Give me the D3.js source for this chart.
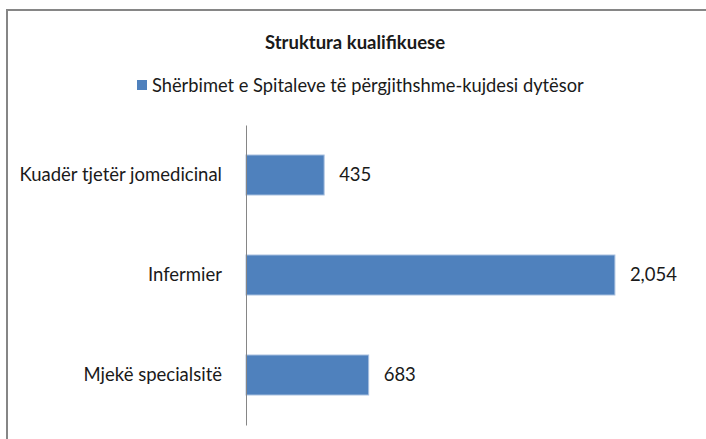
<!DOCTYPE html>
<html>
<head>
<meta charset="utf-8">
<script src="https://cdn.jsdelivr.net/npm/d3@7"></script>
<style>
  body { margin: 0; background: #fff; }
  svg text { font-family: Lato, "Open Sans", sans-serif; fill: #1a1a1a; }
</style>
</head>
<body>
<div id="chart"></div>
<script>
// values
var categories = ["Kuadër tjetër jomedicinal", "Infermier", "Mjekë specialsitë"];
var values = [435, 2054, 683];
var seriesName = "Shërbimet e Spitaleve të përgjithshme-kujdesi dytësor";
var chartTitle = "Struktura kualifikuese";

var W = 706, H = 439;
var margin = {top: 125, right: 11, bottom: 14, left: 246};
var width = W - margin.left - margin.right,
    height = H - margin.top - margin.bottom;

var svg = d3.select("#chart")
  .append("svg")
    .attr("width", W)
    .attr("height", H);

// chart frame (only left and top visible in the picture)
svg.append("rect")
  .attr("x", 7)
  .attr("y", 10)
  .attr("width", 720)
  .attr("height", 460)
  .attr("fill", "none")
  .attr("stroke", "#868686")
  .attr("stroke-width", 2);

// title
svg.append("text")
  .attr("x", 355)
  .attr("y", 49)
  .attr("text-anchor", "middle")
  .style("font-size", "18.5px")
  .style("font-weight", "bold")
  .text(chartTitle);

// legend
var legend = svg.append("g");
legend.append("text")
  .attr("x", 152)
  .attr("y", 92)
  .style("font-size", "18.3px")
  .text(seriesName);
legend.append("rect")
  .attr("x", 137)
  .attr("y", 80)
  .attr("width", 10)
  .attr("height", 10)
  .attr("fill", "#4f81bd");

var g = svg.append("g")
  .attr("transform", "translate(" + margin.left + "," + margin.top + ")");

var x = d3.scaleLinear()
  .domain([0, 2500])
  .range([0, width]);

var y = d3.scaleBand()
  .domain(categories)
  .range([0, height])
  .paddingInner(0.6)
  .paddingOuter(0.3);

// bars
g.selectAll("rect.bar")
  .data(values)
  .enter()
  .append("rect")
    .attr("class", "bar")
    .attr("x", 0)
    .attr("y", function(d, i) { return y(categories[i]); })
    .attr("width", function(d) { return x(d); })
    .attr("height", y.bandwidth())
    .attr("fill", "#4f81bd")
    .attr("stroke", "#a7bfdf")
    .attr("stroke-width", 1);

// value labels
g.selectAll("text.val")
  .data(values)
  .enter()
  .append("text")
    .attr("class", "val")
    .attr("x", function(d) { return x(d) + 15; })
    .attr("y", function(d, i) { return y(categories[i]) + y.bandwidth() / 2; })
    .attr("dy", "0.35em")
    .style("font-size", "18.5px")
    .text(function(d) { return d3.format(",")(d); });

// category axis
var yAxis = g.append("g")
  .call(d3.axisLeft(y).tickSize(0).tickPadding(24));
yAxis.select(".domain").attr("stroke", "#868686").attr("stroke-width", 1);
yAxis.selectAll("text")
  .style("font-family", "Lato, 'Open Sans', sans-serif")
  .style("font-size", "18.5px")
  .attr("fill", "#1a1a1a");
</script>
</body>
</html>
